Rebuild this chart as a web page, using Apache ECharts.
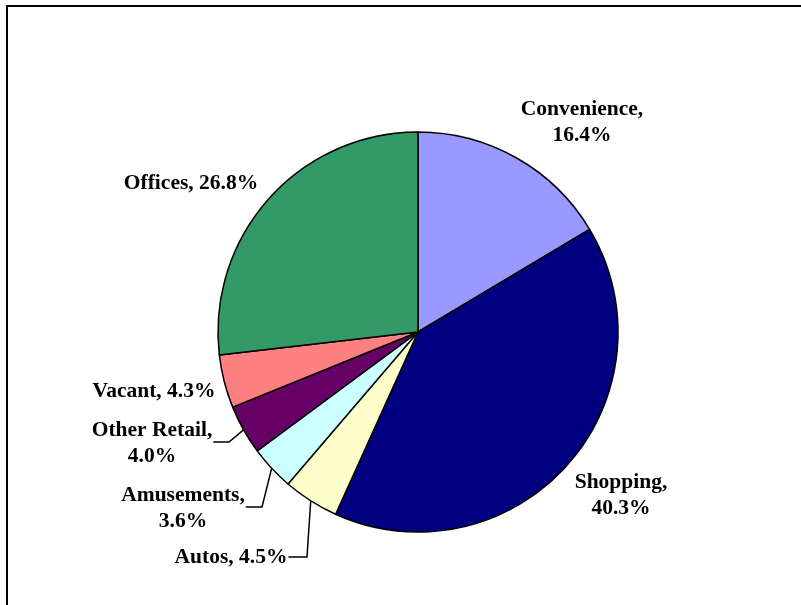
<!DOCTYPE html>
<html>
<head>
<meta charset="utf-8">
<script src="https://cdn.jsdelivr.net/npm/echarts@6/dist/echarts.min.js"></script>
<style>html,body{margin:0;padding:0;background:#fff;}#c{width:801px;height:605px;}</style>
</head>
<body>
<div id="c"></div>
<script>
var categories = ['Convenience', 'Shopping', 'Autos', 'Amusements', 'Other Retail', 'Vacant', 'Offices'];
var shares = [16.4, 40.3, 4.5, 3.6, 4.0, 4.3, 26.8];
var colors = ['#9999FF', '#000080', '#FFFFCC', '#CCFFFF', '#660066', '#FF8080', '#339966'];
var wrapLabel = [true, true, false, true, true, false, false];
var showLeader = [false, false, true, true, true, false, false];
// label block centres (layout)
var labelPos = [[582, 122], [621, 495], [231, 557], [183, 508], [152, 443], [154, 391], [191, 183]];
// leader elbow points (layout)
var elbowPos = [null, null, [307, 557], [262, 507], [229, 442], null, null];

var CX = 418, CY = 332, R = 200;
var total = shares.reduce(function (a, b) { return a + b; }, 0);

function edgePoint(i) {
  var before = 0;
  for (var k = 0; k < i; k++) before += shares[k];
  var ang = (before + shares[i] / 2) / total * 2 * Math.PI;
  return [CX + R * Math.sin(ang), CY - R * Math.cos(ang)];
}

var chart = echarts.init(document.getElementById('c'), null, {renderer: 'canvas'});
var data = categories.map(function (c, i) {
  return {
    name: c, value: shares[i],
    itemStyle: {color: colors[i]},
    labelLine: {show: showLeader[i]}
  };
});
chart.setOption({
  backgroundColor: '#fff',
  animation: false,
  graphic: [{
    type: 'rect', shape: {x: 7, y: 6, width: 820, height: 640},
    style: {fill: 'none', stroke: '#000', lineWidth: 2}, silent: true, z: 100
  }],
  series: [{
    type: 'pie',
    center: [CX, CY],
    radius: R,
    startAngle: 90,
    clockwise: true,
    data: data,
    itemStyle: {borderColor: '#000', borderWidth: 1.5},
    label: {
      show: true, position: 'outside',
      fontFamily: 'Liberation Serif', fontWeight: 'bold', fontSize: 21.5,
      color: '#000', lineHeight: 26, align: 'center',
      formatter: function (p) {
        var i = p.dataIndex;
        return p.name + ',' + (wrapLabel[i] ? '\n' : ' ') + shares[i].toFixed(1) + '%';
      }
    },
    labelLine: {lineStyle: {color: '#000', width: 1.5}, length: 10, length2: 10},
    labelLayout: function (params) {
      var i = params.dataIndex;
      var pos = labelPos[i];
      var res = {x: pos[0], y: pos[1], align: 'center', verticalAlign: 'middle'};
      if (showLeader[i] && elbowPos[i]) {
        var right = pos[0] + params.labelRect.width / 2 + 1;
        var e = elbowPos[i];
        res.labelLinePoints = [edgePoint(i), e, [right, e[1]]];
      }
      return res;
    }
  }]
});
</script>
</body>
</html>
